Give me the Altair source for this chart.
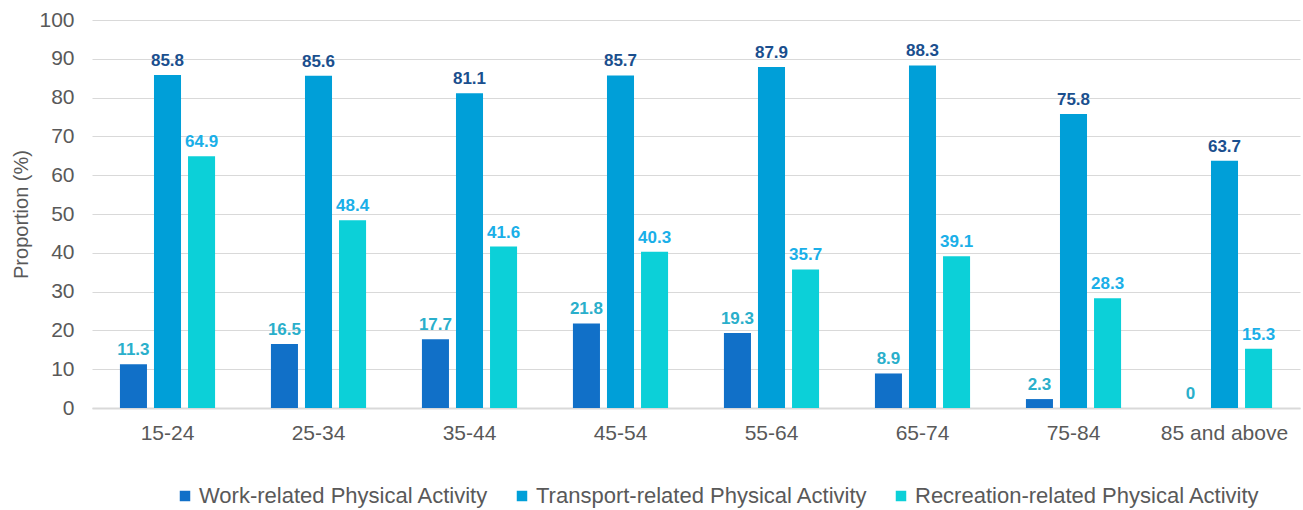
import altair as alt
import pandas as pd

age_groups = ["15-24", "25-34", "35-44", "45-54", "55-64", "65-74", "75-84", "85 and above"]
series = ["Work-related Physical Activity", "Transport-related Physical Activity", "Recreation-related Physical Activity"]
work = [11.3, 16.5, 17.7, 21.8, 19.3, 8.9, 2.3, 0]
transport = [85.8, 85.6, 81.1, 85.7, 87.9, 88.3, 75.8, 63.7]
recreation = [64.9, 48.4, 41.6, 40.3, 35.7, 39.1, 28.3, 15.3]

bar_colors = ["#1170C8", "#009FD8", "#0CD0D8"]
label_colors = ["#2AAFCB", "#1A4F8E", "#1AAFE8"]

rows = []
for vals, s in zip([work, transport, recreation], series):
    for a, v in zip(age_groups, vals):
        rows.append({"age": a, "series": s, "value": v, "label": f"{v:g}"})
df = pd.DataFrame(rows)

FONT = "Liberation Sans"

x = alt.X("age:N", sort=age_groups, title=None,
          scale=alt.Scale(paddingInner=0.37, paddingOuter=0.185),
          axis=alt.Axis(labelAngle=0, labelFontSize=21, labelColor="#595959", labelFont=FONT,
                        labelPadding=14, ticks=False, domain=True, domainColor="#d9d9d9",
                        domainWidth=2, grid=False))
xo = alt.XOffset("series:N", sort=series, scale=alt.Scale(paddingInner=0.206, paddingOuter=0))
y = alt.Y("value:Q", title="Proportion (%)",
          scale=alt.Scale(domain=[0, 100]),
          axis=alt.Axis(values=list(range(0, 101, 10)), labelFontSize=21, labelColor="#595959",
                        labelFont=FONT, titleFont=FONT, titleFontSize=20, titleFontWeight="normal",
                        titleColor="#595959", titlePadding=7, labelPadding=18, ticks=False,
                        domain=False, gridColor="#d9d9d9", gridWidth=1))

bars = alt.Chart(df).mark_bar().encode(
    x=x, xOffset=xo, y=y,
    color=alt.Color("series:N", sort=series, scale=alt.Scale(domain=series, range=bar_colors),
                    legend=alt.Legend(title=None, orient="none", direction="horizontal",
                                      legendX=82, legendY=465, symbolType="square", symbolSize=110,
                                      labelFontSize=22, labelFont=FONT, labelColor="#595959",
                                      labelOffset=3, columnPadding=22, labelLimit=500,
                                      symbolStrokeWidth=0)),
)

labels = alt.Chart(df).mark_text(dy=-14, fontSize=17, fontWeight="bold", font=FONT).encode(
    x=x, xOffset=xo, y=y,
    text="label:N",
    color=alt.Color("series:N", sort=series, scale=alt.Scale(domain=series, range=label_colors),
                    legend=None),
)

chart = alt.layer(bars, labels).resolve_scale(color="independent").properties(
    width=1208, height=388,
    autosize=alt.AutoSizeParams(type="none"),
    padding={"left": 92, "top": 20, "right": 3, "bottom": 102},
).configure_view(strokeWidth=0, stroke="transparent").configure_axisY(
    domain=False, ticks=False
).configure_axisX(grid=False).configure(
    background="white", style={"cell": {"stroke": "transparent", "strokeWidth": 0}}
)

chart.save("out.html", embed_options={"renderer": "svg", "actions": False})
